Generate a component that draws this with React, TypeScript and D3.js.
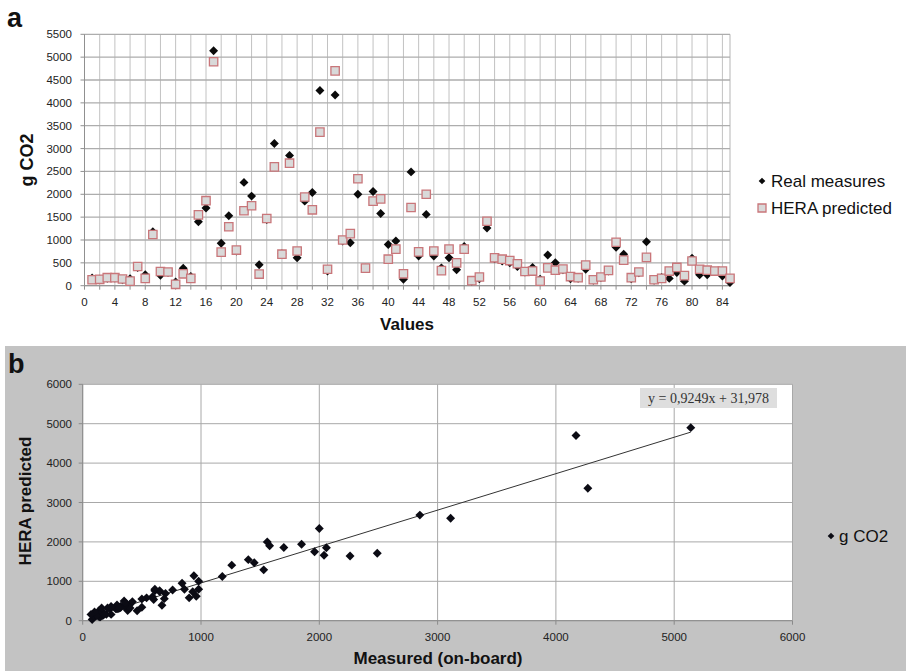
import React from "react";
import * as d3 from "d3";

// index 1..85
const runs = d3.range(1, 86);

const realMeasures = [
  170, 140, 160, 170, 130, 150, 400, 240, 1180, 230,
  290, 80, 380, 200, 1400, 1700, 5140, 930, 1530, 760,
  2260, 1960, 460, 1450, 3110, 700, 2850, 610, 1850, 2040,
  4270, 320, 4170, 980, 940, 2000, 380, 2060, 1580, 900,
  980, 140, 2490, 650, 1560, 650, 390, 610, 350, 860,
  100, 150, 1260, 590, 540, 500, 420, 300, 400, 140,
  670, 500, 350, 150, 160, 360, 120, 180, 320, 840,
  690, 150, 280, 960, 120, 180, 160, 290, 100, 600,
  240, 240, 310, 210, 70,
];

const heraPredicted = [
  130, 140, 175, 175, 146, 100, 420, 160, 1120, 310,
  300, 30, 260, 160, 1550, 1860, 4900, 735, 1290, 780,
  1640, 1750, 255, 1470, 2600, 690, 2680, 760, 1940, 1660,
  3360, 360, 4700, 1000, 1140, 2340, 385, 1850, 1900, 580,
  800, 260, 1710, 740, 2000, 760, 330, 800, 500, 800,
  110, 190, 1410, 610, 580, 550, 480, 310, 320, 100,
  390, 340, 365, 200, 175, 450, 130, 190, 336, 950,
  560, 175, 300, 620, 130, 160, 320, 400, 220, 540,
  360, 340, 320, 320, 160,
];

const aYTicks = d3.range(0, 5501, 500);
const aXTicks = d3.range(0, 85, 4);
const aXGrid = d3.range(0, 85, 2);
const bTicks = d3.range(0, 6001, 1000);

const slope = 0.9249;
const intercept = 31.978;
const equationLabel = "y = 0,9249x + 31,978";

const FONT = "Arial, 'Liberation Sans', sans-serif";

export default function App() {
  // panel a
  const xA = d3.scaleLinear().domain([0, 85]).range([84.5, 730]);
  const yA = d3.scaleLinear().domain([0, 5500]).range([285.7, 34.3]);
  // panel b
  const xB = d3.scaleLinear().domain([0, 6000]).range([82.7, 792.5]);
  const yB = d3.scaleLinear().domain([0, 6000]).range([620.7, 384.3]);

  const diamond = d3.symbol(d3.symbolSquare, 40)();
  const smallDiamond = d3.symbol(d3.symbolSquare, 22)();
  const square = d3.symbol(d3.symbolSquare, 70)();
  const legendSquare = d3.symbol(d3.symbolSquare, 64)();

  const pairs = runs.map((r, i) => ({ run: r, real: realMeasures[i], hera: heraPredicted[i] }));
  const xMin = d3.min(realMeasures)!;
  const xMax = d3.max(realMeasures)!;
  const trend = d3
    .line<number>()
    .x((v) => xB(v))
    .y((v) => yB(slope * v + intercept));

  return (
    <svg
      width={906}
      height={671}
      style={{ position: "absolute", left: 0, top: 0, display: "block", background: "#fff" }}
      fontFamily={FONT}
    >
      {/* ---------- panel a ---------- */}
      <text x={7} y={27} fontSize={27} fontWeight="bold" fill="#111">a</text>

      <rect x={xA(0)} y={yA(5500)} width={xA(85) - xA(0)} height={yA(0) - yA(5500)} fill="#fff" />
      {aXGrid.map((t) => (
        <line key={"vx" + t} x1={xA(t)} x2={xA(t)} y1={yA(0)} y2={yA(5500)} stroke="#c2c2c2" strokeWidth={1} />
      ))}
      <line x1={xA(85)} x2={xA(85)} y1={yA(0)} y2={yA(5500)} stroke="#b5b5b5" strokeWidth={1} />
      {aYTicks.map((t) => (
        <line key={"hy" + t} x1={xA(0)} x2={xA(85)} y1={yA(t)} y2={yA(t)} stroke="#adadad" strokeWidth={1.3} />
      ))}
      <line x1={xA(0)} x2={xA(0)} y1={yA(0)} y2={yA(5500)} stroke="#909090" strokeWidth={1} />
      <line x1={xA(0)} x2={xA(85)} y1={yA(0)} y2={yA(0)} stroke="#909090" strokeWidth={1} />
      {aYTicks.map((t) => (
        <g key={"ya" + t}>
          <line x1={xA(0) - 4} x2={xA(0)} y1={yA(t)} y2={yA(t)} stroke="#909090" />
          <text x={72} y={yA(t) + 4} fontSize={11.5} textAnchor="end" fill="#222">{t}</text>
        </g>
      ))}
      {aXGrid.map((t) => (
        <line key={"xt" + t} x1={xA(t)} x2={xA(t)} y1={yA(0)} y2={yA(0) + 4} stroke="#909090" />
      ))}
      {aXTicks.map((t) => (
        <text key={"xa" + t} x={xA(t)} y={306} fontSize={11.5} textAnchor="middle" fill="#222">{t}</text>
      ))}

      {pairs.map((d) => (
        <path key={"r" + d.run} d={diamond} transform={`translate(${xA(d.run)},${yA(d.real)}) rotate(45)`} fill="#0a0a0a" />
      ))}
      {pairs.map((d) => (
        <path
          key={"h" + d.run}
          d={square}
          transform={`translate(${xA(d.run)},${yA(d.hera)})`}
          fill="#d9d9d9"
          stroke="#c9767a"
          strokeWidth={1.3}
        />
      ))}

      <text x={407} y={330} fontSize={17} fontWeight="bold" textAnchor="middle" fill="#111">Values</text>
      <text transform="translate(33,160) rotate(-90)" fontSize={18} fontWeight="bold" textAnchor="middle" fill="#111">g CO2</text>

      {/* legend a */}
      <path d={smallDiamond} transform="translate(762,181) rotate(45)" fill="#0a0a0a" />
      <text x={771} y={187} fontSize={17} fill="#111">Real measures</text>
      <path d={legendSquare} transform="translate(762,208)" fill="#d9d9d9" stroke="#c9767a" strokeWidth={1.3} />
      <text x={771} y={214} fontSize={17} fill="#111">HERA predicted</text>

      {/* ---------- panel b ---------- */}
      <rect x={5} y={346} width={901} height={325} fill="#c3c3c3" />
      <text x={8} y={373} fontSize={27} fontWeight="bold" fill="#111">b</text>

      <rect x={xB(0)} y={yB(6000)} width={xB(6000) - xB(0)} height={yB(0) - yB(6000)} fill="#fff" />
      {bTicks.map((t) => (
        <g key={"bg" + t}>
          <line x1={xB(t)} x2={xB(t)} y1={yB(0)} y2={yB(6000)} stroke="#a8a8a8" strokeWidth={1} />
          <line x1={xB(0)} x2={xB(6000)} y1={yB(t)} y2={yB(t)} stroke="#a8a8a8" strokeWidth={1} />
        </g>
      ))}
      <line x1={xB(0)} x2={xB(0)} y1={yB(0)} y2={yB(6000)} stroke="#8a8a8a" />
      <line x1={xB(0)} x2={xB(6000)} y1={yB(0)} y2={yB(0)} stroke="#8a8a8a" />
      {bTicks.map((t) => (
        <g key={"bt" + t}>
          <line x1={xB(0) - 4} x2={xB(0)} y1={yB(t)} y2={yB(t)} stroke="#8a8a8a" />
          <text x={72} y={yB(t) + 4} fontSize={11.5} textAnchor="end" fill="#222">{t}</text>
          <line x1={xB(t)} x2={xB(t)} y1={yB(0)} y2={yB(0) + 4} stroke="#8a8a8a" />
          <text x={xB(t)} y={641} fontSize={11.5} textAnchor="middle" fill="#222">{t}</text>
        </g>
      ))}

      <path d={trend([xMin, xMax]) ?? ""} fill="none" stroke="#333" strokeWidth={1} />
      {pairs.map((d) => (
        <path key={"b" + d.run} d={diamond} transform={`translate(${xB(d.real)},${yB(d.hera)}) rotate(45)`} fill="#0b0b14" />
      ))}

      <rect x={640} y={388} width={137} height={20} fill="#dedede" />
      <text x={708.5} y={403} fontSize={14} textAnchor="middle" fill="#333" fontFamily="'Liberation Serif', 'Times New Roman', serif">
        {equationLabel}
      </text>

      <text x={438} y={664} fontSize={17} fontWeight="bold" textAnchor="middle" fill="#111">Measured (on-board)</text>
      <text transform="translate(31,501) rotate(-90)" fontSize={17} fontWeight="bold" textAnchor="middle" fill="#111">HERA predicted</text>

      <path d={smallDiamond} transform="translate(831,536) rotate(45)" fill="#0b0b14" />
      <text x={839} y={542} fontSize={17} fill="#111">g CO2</text>
    </svg>
  );
}
